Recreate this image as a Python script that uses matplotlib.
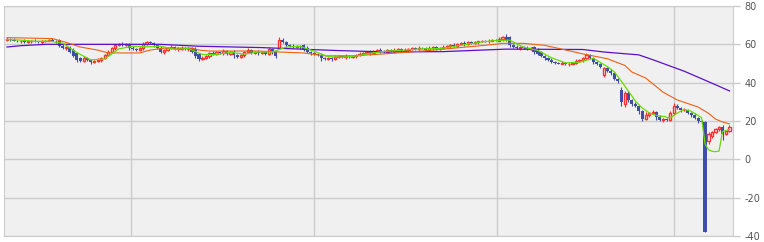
import matplotlib
matplotlib.use("Agg")
import matplotlib.pyplot as plt
import numpy as np

# weekly candles
opens = [
    62.5, 63, 62.5, 62, 61.5, 62, 61, 61.5, 62, 61.5, 61, 61.5, 62, 62.5, 62,
    62.5, 59, 58, 58.5, 57, 55.5, 53, 51.5, 53, 52, 51, 51.5, 52, 53, 54.5, 56, 58, 59.5, 60, 59.5,
    60, 58, 57.5, 57, 58, 60, 61, 60.5, 59.5, 58, 56, 57, 58, 58.5, 57.5, 57.8, 58, 57.5, 58, 57.5,
    55, 52.5, 53, 54, 55.5, 55, 56, 55.5, 56.5, 55, 56, 54.5, 53.5, 54.5, 56, 57, 55.5, 56, 55.5, 56, 55, 57.5, 56,
    58, 62.5, 61, 59.5, 59, 58.5, 59, 59.5, 58, 56, 55.5, 55, 54.5, 53, 52.5, 53, 52.5, 53.5, 54, 53.5, 54, 53.5,
    54, 54.5, 55, 55.5, 56, 55.5, 56.5, 57, 56.5, 56, 57, 56.5, 57, 57.5, 56.5, 57, 57.5, 58, 57.5, 58.3, 58, 57, 58, 58.5, 57.5,
    58, 58.5, 59, 59.5, 59, 60, 60.5, 60, 61, 60.5, 61, 61.5, 62, 61.5, 62, 62.5, 62, 63, 64,
    64, 59.5, 58.5, 58, 58.5, 58, 57.5, 58.5, 57, 56, 54, 53, 52, 51, 50.5, 50, 50.5, 49.5, 50, 50.5, 51.5, 52, 53, 54.5, 53, 51,
    49.5, 44, 47.5, 46, 45, 42,
    36, 29, 34.5, 31, 29, 28, 25, 21, 23, 24, 24.5, 22, 20.5, 21, 20.5, 24, 28, 27, 25.5, 26, 24, 23, 21.5, 20,
    19.5, 9.5, 12, 14, 16, 17, 13, 15,
]
closes = [
    63, 62.5, 62, 61.5, 62, 61, 61.5, 62, 61.5, 61, 61.5, 62, 62.5, 62, 61.5,
    59, 58, 58.5, 56, 54, 52, 51.5, 53, 52, 51, 51.5, 52, 53, 54.5, 56, 58, 59.5, 60, 59.5, 60,
    58, 57.5, 57, 58, 60, 61, 60.5, 59.5, 58, 56, 57, 58, 58.5, 57.5, 58, 58, 57.5, 58, 56, 54,
    52.5, 53, 54, 55.5, 55, 56, 55.5, 56.5, 55, 56, 54.5, 53.5, 54.5, 56, 57, 55.5, 56, 55.5, 56, 55, 57.5, 56, 54,
    62.5, 61, 59.5, 59, 58.5, 59, 58.5, 57, 56, 55.5, 55, 54.5, 53, 52.5, 53, 52.5, 53.5, 54, 53.5, 54, 53.5, 54,
    54.5, 55, 55.5, 56, 55.5, 56.5, 57, 56.5, 56, 57, 56.5, 57, 57.5, 56.5, 57, 57.5, 58, 57.5, 58, 58, 57, 58, 58.5, 57.5, 58,
    58.5, 59, 59.5, 59, 60, 60.5, 60, 61, 60.5, 61, 61.5, 62, 61.5, 62, 62.5, 62, 63, 64, 62.5,
    59.5, 58.5, 58, 58.5, 58, 57.5, 58, 56, 55, 54, 53, 52, 51, 50.5, 50, 50.5, 49.5, 50, 50.5, 51.5, 52, 53, 54.5, 53, 51, 49.5,
    48, 47.5, 46, 45, 42, 41,
    30, 34.5, 31, 29, 28, 25, 21, 23, 24, 24.5, 22, 20.5, 21, 20.5, 24, 28, 27, 25.5, 26, 24, 23, 21.5, 20, 19.5,
    -38, 13, 14, 16, 17, 13, 15, 17,
]
wick_up = [
    1, 0.5, 1, 0.5, 0.5, 1, 0.5, 0.5, 1, 0.5, 1, 0.5, 0.5, 1, 0.5,
    0.5, 1, 0.5, 0.5, 1, 0.5, 0.5, 1, 0.5, 0.5, 0.5, 1, 0.5, 0.5, 1, 0.5, 0.5, 0.5, 1, 0.5,
    0.5, 1, 0.5, 0.5, 1, 0.5, 1, 0.5, 0.5, 1, 0.5, 0.5, 1, 0.5, 0.5, 1, 0.5, 0.5, 0.5, 1,
    0.5, 1, 0.5, 0.5, 1, 0.5, 0.5, 1, 0.5, 0.5, 1, 0.5, 0.5, 0.5, 1, 0.5, 0.5, 1, 0.5, 0.5, 1, 0.5, 0.5,
    1.5, 1, 0.5, 0.5, 1, 0.5, 0.5, 0.5, 1, 0.5, 0.5, 0.5, 1, 0.5, 0.5, 0.5, 1, 0.5, 0.5, 1, 0.5, 0.5,
    0.5, 1, 0.5, 0.5, 1, 0.5, 0.5, 1, 0.5, 0.5, 0.5, 1, 0.5, 0.5, 1, 0.5, 0.5, 0.5, 1, 0.5, 0.5, 1, 0.5, 0.5, 0.5,
    1, 0.5, 0.5, 1, 0.5, 0.5, 1, 0.5, 0.5, 1, 0.5, 0.5, 0.5, 1, 0.5, 0.5, 1, 0.5, 1.5,
    0.5, 0.5, 1, 0.5, 0.5, 1, 0.5, 0.5, 1, 0.5, 0.5, 0.5, 1, 0.5, 0.5, 1, 0.5, 0.5, 0.5, 1, 0.5, 0.5, 1, 0.5, 0.5, 0.5,
    1, 0.5, 0.5, 1, 0.5, 0.5,
    1.5, 1, 1, 0.5, 1, 0.5, 1, 1.5, 0.5, 1, 0.5, 1, 0.5, 0.5, 1, 1.5, 1, 0.5, 1, 0.5, 0.5, 1, 0.5, 0.5,
    0.5, 1, 1, 0.5, 0.5, 1, 0.5, 1,
]
wick_dn = [
    0.5, 1, 0.5, 0.5, 1, 0.5, 0.5, 1, 0.5, 0.5, 1, 0.5, 0.5, 0.5, 1,
    0.5, 0.5, 1, 0.5, 0.5, 1, 0.5, 0.5, 0.5, 1, 0.5, 0.5, 1, 0.5, 0.5, 0.5, 1, 0.5, 0.5, 0.5,
    1, 0.5, 0.5, 0.5, 1, 0.5, 0.5, 1, 0.5, 0.5, 1, 0.5, 0.5, 0.5, 1, 0.5, 0.5, 1, 0.5, 1,
    1, 0.5, 0.5, 1, 0.5, 0.5, 0.5, 1, 0.5, 0.5, 1.5, 0.5, 0.5, 1, 0.5, 0.5, 0.5, 1, 0.5, 0.5, 0.5, 1, 1,
    0.5, 0.5, 1, 0.5, 0.5, 0.5, 1, 0.5, 0.5, 1, 0.5, 0.5, 1.5, 0.5, 0.5, 1, 0.5, 0.5, 0.5, 1, 0.5, 0.5,
    1, 0.5, 0.5, 0.5, 1, 0.5, 0.5, 1, 0.5, 0.5, 0.5, 1, 0.5, 0.5, 0.5, 1, 0.5, 0.5, 1, 0.5, 0.5, 0.5, 1, 0.5, 0.5,
    0.5, 0.5, 1, 0.5, 0.5, 0.5, 1, 0.5, 0.5, 0.5, 1, 0.5, 0.5, 1, 0.5, 0.5, 0.5, 1, 0.5,
    1, 0.5, 0.5, 1, 0.5, 0.5, 0.5, 1, 0.5, 0.5, 1, 0.5, 0.5, 1, 0.5, 0.5, 0.5, 1, 0.5, 0.5, 0.5, 1, 0.5, 0.5, 1, 0.5,
    0.5, 1, 0.5, 1, 0.5, 1,
    2, 1.5, 1, 1, 0.5, 1.5, 1, 0.5, 1, 0.5, 1.5, 0.5, 1, 0.5, 0.5, 1, 0.5, 1, 0.5, 0.5, 1, 0.5, 1, 0.5,
    0, 1.5, 1, 0.5, 1, 3, 0.5, 0.5,
]

# moving averages (candle index, value)
ma_short_idx = list(range(0, 173, 4)) + list(range(174, 199, 2)) + list(range(199, 208))
ma_short = [
    62.5, 62.2, 61.6, 61.7, 60.6, 55.7, 51.9, 52.4, 57.6, 59,
    58.7, 59, 57.4, 57.8, 54.7, 54.7, 55.8, 54.9, 56, 56,
    58.6, 58.9, 56.4, 53.6, 53.3, 53.9, 55.3, 56.3, 56.8, 57.3,
    57.7, 57.8, 58.8, 60.1, 61.2, 62, 62.2, 58.5, 56.9, 53,
    50.3, 50.7, 52.7, 48.4,
    45.7, 40.8, 35.7, 30.5, 26.8, 24.2, 22.9, 22.4, 21.6, 24.1, 26.1, 25.1, 22.9,
    21.6, 8, 5, 4.2, 4, 4.3, 14.5, 15, 15.6,
]
ma_mid_idx = [0, 13, 17, 21, 26, 29, 34, 38, 41, 45, 53, 55, 58, 72, 78, 85, 91, 99, 108,
              119, 128, 137, 142, 148, 154, 159, 165, 172, 177, 179, 183, 188, 192, 198,
              201, 203, 205, 207]
ma_mid = [63.5, 63, 61, 58.6, 57, 55.5, 55.5, 55.5, 57, 58, 58, 57, 56.5, 56.5, 56, 55.5, 54, 54, 55,
          56.5, 58, 59.5, 60.5, 60.5, 59.5, 57.5, 55, 52.5, 49, 45.6, 42.4, 35, 31, 27.3,
          24, 21, 19.5, 18.5]
ma_long_idx = [0, 4, 11, 44, 55, 73, 94, 109, 125, 143, 165, 171, 181, 185, 194, 201, 207]
ma_long = [58.6, 59.3, 60, 60, 59, 58.3, 56.8, 56, 56.2, 57.5, 57.3, 56, 54.5, 52, 46, 40.5, 35.7]

year_lines = [35.5, 88, 140.5, 191]
yticks = [-40, -20, 0, 20, 40, 60, 80]

plt.rcParams['axes.unicode_minus'] = False

o = np.array(opens)
c = np.array(closes)
hi = np.maximum(o, c) + np.array(wick_up)
lo = np.minimum(o, c) - np.array(wick_dn)
x = np.arange(len(c))
up = c >= o

fig = plt.figure(figsize=(7.64, 2.42), dpi=100)
ax = fig.add_axes([0.0046, 0.0248, 0.9548, 0.9504])
ax.set_facecolor('#f0f0f0')

for v in yticks:
    ax.axhline(v, color='#cccccc', lw=1, zorder=0)
for v in year_lines:
    ax.axvline(v, color='#cccccc', lw=1, zorder=0)

red = '#ff3030'
blue = '#3f4fa8'
ax.vlines(x[up], lo[up], hi[up], colors=red, lw=0.8, zorder=2)
ax.vlines(x[~up], lo[~up], hi[~up], colors=blue, lw=0.8, zorder=2)
ax.bar(x[~up], (o - c)[~up], bottom=c[~up], width=0.9, color=blue, lw=0, zorder=3)
ax.bar(x[up], (c - o)[up], bottom=o[up], width=0.65, facecolor='white',
       edgecolor=red, lw=1.0, zorder=3)

ax.plot(ma_long_idx, ma_long, color='#5a10c8', lw=0.9, zorder=4)
ax.plot(ma_mid_idx, ma_mid, color='#f06010', lw=0.8, zorder=4)
ax.plot(ma_short_idx, ma_short, color='#66dd00', lw=0.9, zorder=5)

ax.set_xlim(-1, len(c))
ax.set_ylim(-40, 80)
ax.set_xticks([])
ax.set_yticks(yticks)
ax.yaxis.tick_right()
ax.tick_params(axis='y', length=5, width=1, color='#cccccc', labelcolor='#555555',
               labelsize=7, pad=3)
for s in ax.spines.values():
    s.set_color('#cccccc')

fig.savefig('out.png', dpi=100)
